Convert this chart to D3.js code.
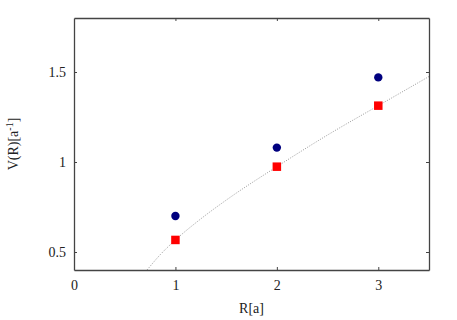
<!DOCTYPE html>
<html>
<head>
<meta charset="utf-8">
<script src="https://cdn.jsdelivr.net/npm/d3@7"></script>
<style>
  body { margin: 0; background: #fff; }
  text { font-family: "Liberation Serif", "DejaVu Serif", serif; fill: #222; }
</style>
</head>
<body>
<div id="chart"></div>
<script>
// data
var xTicks = [0, 1, 2, 3],
    yTicks = [0.5, 1, 1.5],
    rValues = [1, 2, 3],
    circleV = [0.70, 1.08, 1.47],
    squareV = [0.567, 0.974, 1.313],
    fitR = [0.72, 0.85, 1, 1.25, 1.5, 2, 2.5, 3, 3.5],
    fitV = [0.40, 0.485, 0.567, 0.684, 0.788, 0.974, 1.15, 1.313, 1.475];

var width = 457, height = 320,
    margin = {left: 74, right: 28, top: 18, bottom: 50};

var svg = d3.select("#chart").append("svg")
    .attr("width", width)
    .attr("height", height);

var x = d3.scaleLinear().domain([0, 3.5]).range([margin.left, width - margin.right]),
    y = d3.scaleLinear().domain([0.4, 1.8]).range([height - margin.bottom, margin.top]);

var tickLen = 3;

// fit curve (dotted)
var line = d3.line()
    .x(function(d, i) { return x(fitR[i]); })
    .y(function(d, i) { return y(fitV[i]); })
    .curve(d3.curveMonotoneX);
svg.append("path")
    .datum(fitR)
    .attr("d", line)
    .attr("fill", "none")
    .attr("stroke", "#999")
    .attr("stroke-width", 1)
    .attr("stroke-dasharray", "1,1.5");

// axes, ticks inward
svg.append("g")
    .attr("transform", "translate(0," + y.range()[0] + ")")
    .call(d3.axisBottom(x).tickValues(xTicks).tickSize(-tickLen).tickSizeOuter(0).tickPadding(10).tickFormat(d3.format("d")));
svg.append("g")
    .attr("transform", "translate(0," + y.range()[1] + ")")
    .call(d3.axisTop(x).tickValues(xTicks.slice(1)).tickSize(-tickLen).tickSizeOuter(0).tickFormat(""));
svg.append("g")
    .attr("transform", "translate(" + x.range()[0] + ",0)")
    .call(d3.axisLeft(y).tickValues(yTicks).tickSize(-tickLen).tickSizeOuter(0).tickPadding(8).tickFormat(d3.format("")));
svg.append("g")
    .attr("transform", "translate(" + x.range()[1] + ",0)")
    .call(d3.axisRight(y).tickValues(yTicks).tickSize(-tickLen).tickSizeOuter(0).tickFormat(""));

svg.selectAll(".domain").attr("stroke", "#444").attr("stroke-width", 1.3);
svg.selectAll(".tick line").attr("stroke", "#444");
svg.selectAll(".tick text")
    .attr("font-family", "Liberation Serif, serif")
    .attr("font-size", 14)
    .attr("fill", "#222");

// points
svg.selectAll(".circ")
    .data(rValues)
    .enter().append("circle")
    .attr("class", "circ")
    .attr("cx", function(d) { return x(d); })
    .attr("cy", function(d, i) { return y(circleV[i]); })
    .attr("r", 4.2)
    .attr("fill", "#00007f");

var sq = 8.5;
svg.selectAll(".sq")
    .data(rValues)
    .enter().append("rect")
    .attr("class", "sq")
    .attr("x", function(d) { return x(d) - sq / 2; })
    .attr("y", function(d, i) { return y(squareV[i]) - sq / 2; })
    .attr("width", sq)
    .attr("height", sq)
    .attr("fill", "#ff0000");

// axis labels
svg.append("text")
    .attr("x", (x.range()[0] + x.range()[1]) / 2)
    .attr("y", 313)
    .attr("text-anchor", "middle")
    .attr("font-size", 14)
    .text("R[a]");

var yl = svg.append("text")
    .attr("transform", "translate(18," + ((y.range()[0] + y.range()[1]) / 2) + ") rotate(-90)")
    .attr("text-anchor", "middle")
    .attr("font-size", 14);
yl.append("tspan").text("V(R)[a");
yl.append("tspan").attr("dy", -5).attr("font-size", 10).text("-1");
yl.append("tspan").attr("dy", 5).text("]");
</script>
</body>
</html>
